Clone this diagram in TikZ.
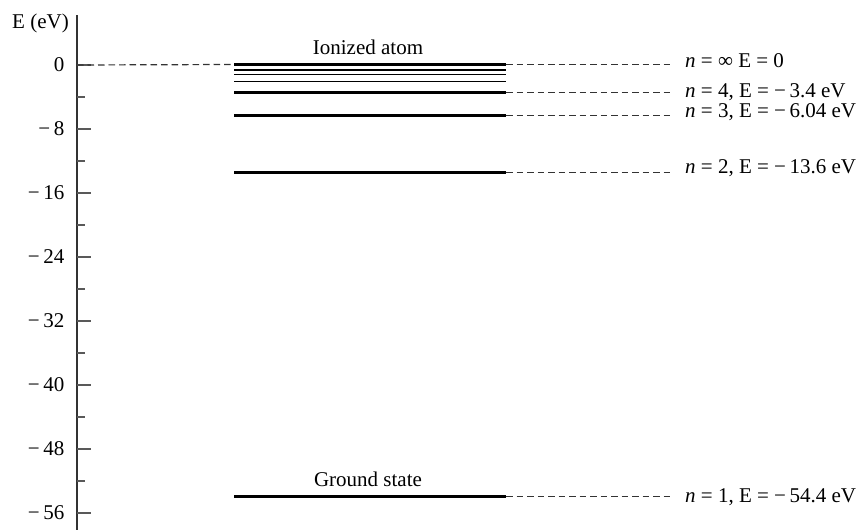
\documentclass[tikz,border=0pt]{standalone}
\usepackage{fontspec}
\setmainfont{Liberation Serif}
\begin{document}
\begin{tikzpicture}[x=1pt,y=-1pt,
  lbl/.style={inner sep=0pt,font=\fontsize{21}{25}\selectfont},
  thicklevel/.style={line width=3pt,black},
  thinlevel/.style={line width=1.5pt,black},
  guide/.style={line width=1.2pt,black!80,dash pattern=on 6.5pt off 4pt},
  axisline/.style={line width=1.8pt,black!80},
  majortick/.style={line width=1.3pt,black!65},
  minortick/.style={line width=1.3pt,black!65}]
\useasboundingbox (0,0) rectangle (862,530);
% axis
\coordinate (atop) at (77,15);
\coordinate (abot) at (77,530);
\draw[axisline] (atop) -- (abot);
\node[lbl,anchor=base east] (ylab) at (69,28.5) {E (eV)};
% ticks
\foreach \v/\t in {0/0,8/−\,8,16/−\,16,24/−\,24,32/−\,32,40/−\,40,48/−\,48,56/−\,56}{
  \coordinate (tk\v) at (77,{65+8*\v});
  \draw[majortick] (tk\v) -- ++(14,0);
  \node[lbl,anchor=base east] (tl\v) at (64.5,{71.5+8*\v}) {\t};
}
\foreach \v in {4,12,20,28,36,44,52}{
  \coordinate (mt\v) at (77,{65+8*\v});
  \draw[minortick] (mt\v) -- ++(8,0);
}
% levels
\foreach \n/\y in {inf/64.5,4/92.5,3/115.7,2/172.3,1/496.7}{
  \coordinate (L\n) at (234,\y);
  \coordinate (R\n) at (506,\y);
  \coordinate (D\n) at (672,\y);
  \draw[thicklevel] (L\n) -- (R\n);
  \draw[guide] (R\n) -- (D\n);
}
\foreach \n/\y in {7/70,6/74.3,5/81.7}{
  \coordinate (L\n) at (234,\y);
  \coordinate (R\n) at (506,\y);
  \draw[thinlevel] (L\n) -- (R\n);
}
\draw[guide] (tk0) -- (Linf);
% labels
\node[lbl,anchor=base] (ion) at (368,54) {Ionized atom};
\node[lbl,anchor=base] (gnd) at (368,486.7) {Ground state};
\node[lbl,anchor=base west] (ninf) at (685,67.5) {\textit{n} = ∞ E = 0};
\node[lbl,anchor=base west] (n4) at (685,97) {\textit{n} = 4, E = −\,3.4 eV};
\node[lbl,anchor=base west] (n3) at (685,117.5) {\textit{n} = 3, E = −\,6.04 eV};
\node[lbl,anchor=base west] (n2) at (685,173.5) {\textit{n} = 2, E = −\,13.6 eV};
\node[lbl,anchor=base west] (n1) at (685,502) {\textit{n} = 1, E = −\,54.4 eV};
\end{tikzpicture}
\end{document}
